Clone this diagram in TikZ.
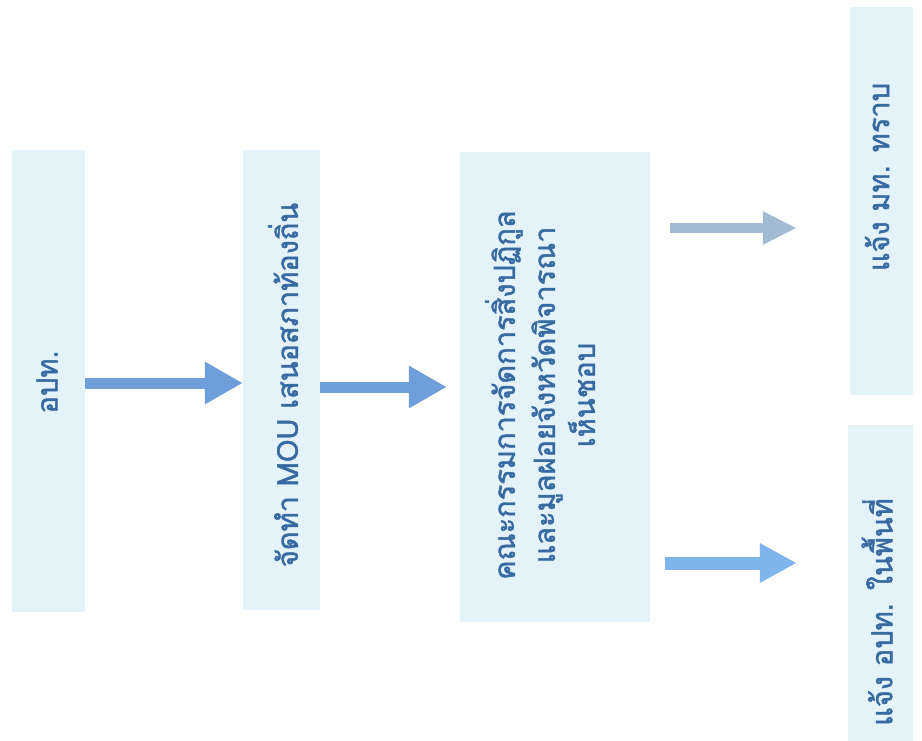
\documentclass[tikz,border=0pt]{standalone}
\usepackage{fontspec}
\newfontfamily\thaifont[Script=Thai,FakeBold=1.6]{Loma}
\usetikzlibrary{arrows.meta}

\definecolor{boxfill}{HTML}{E4F2F9}
\definecolor{boxtext}{HTML}{386AA2}
\definecolor{arrowblue}{HTML}{6E9FDB}
\definecolor{arrowlight}{HTML}{7FB4EC}
\definecolor{arrowgrey}{HTML}{A3BAD4}

\tikzset{
  stagebox/.style={fill=boxfill,draw=none,inner sep=0pt},
  stagetext/.style={rotate=90,text=boxtext,align=center,
    font=\thaifont\fontsize{29}{40}\selectfont},
  flowarrow/.style={line width=11pt,-{Triangle[length=38pt,width=40pt]}},
}

\begin{document}
\begin{tikzpicture}[x=1pt,y=-1pt]
  \useasboundingbox (0,0) rectangle (922,741);
  % boxes
  \node[stagebox,minimum width=73pt,minimum height=462pt] (ap) at (48.5,381) {};
  \node[stagebox,minimum width=77pt,minimum height=460pt] (mou) at (281.5,380) {};
  \node[stagebox,minimum width=190pt,minimum height=470pt] (board) at (555,387) {};
  \node[stagebox,minimum width=63pt,minimum height=388pt] (mt) at (881.5,201) {};
  \node[stagebox,minimum width=65pt,minimum height=316pt] (local) at (880.5,583) {};
  % texts
  \node[stagetext] (aptext) at (47,382) {อปท.};
  \node[stagetext] (moutext) at (283,385) {จัดทำ MOU เสนอสภาท้องถิ่น};
  \node[stagetext] (boardtext) at (540,395)
    {คณะกรรมการจัดการสิ่งปฏิกูล\\และมูลฝอยจังหวัดพิจารณา\\เห็นชอบ};
  \node[stagetext] (mttext) at (877,177) {แจ้ง มท. ทราบ};
  \node[stagetext] (localtext) at (877,612) {แจ้ง อปท. ในพื้นที่};
  % arrows
  \draw[flowarrow,arrowblue] ([yshift=-2pt]ap.east) -- ([yshift=-3pt]mou.west);
  \draw[flowarrow,arrowblue,shorten >=13pt] ([yshift=-7pt]mou.east) -- ([yshift=0pt]board.west);
  \draw[flowarrow,arrowgrey,line width=10pt,-{Triangle[length=34pt,width=31pt]}]
    ([xshift=20pt,yshift=159pt]board.east) -- ([xshift=-53pt,yshift=-27pt]mt.west);
  \draw[flowarrow,arrowlight,line width=13pt,-{Triangle[length=37pt,width=37pt]}]
    ([xshift=15pt,yshift=-176pt]board.east) -- ([xshift=-51pt,yshift=20pt]local.west);
\end{tikzpicture}
\end{document}
